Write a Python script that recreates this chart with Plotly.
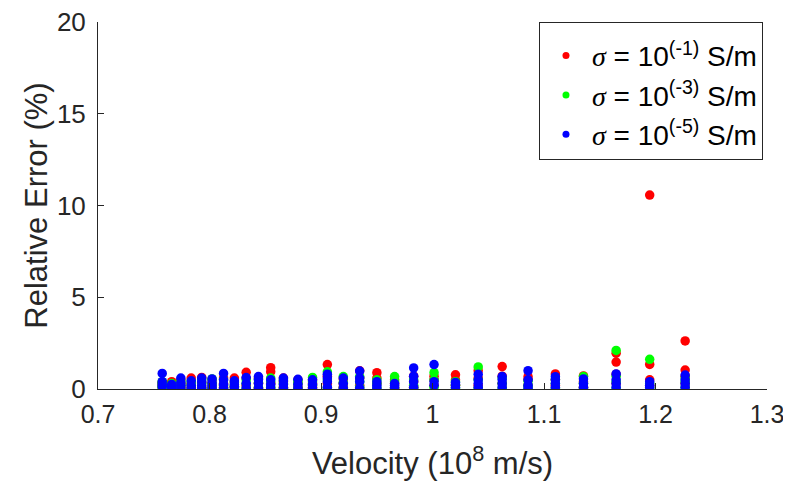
import plotly.graph_objects as go

# Velocity columns (10^8 m/s)
velocity = [0.7576, 0.7661, 0.7743, 0.7836, 0.7930, 0.8023, 0.8126, 0.8223, 0.8329, 0.8439,
            0.8549, 0.8663, 0.8793, 0.8924, 0.9057, 0.9200, 0.9347, 0.9501, 0.9660, 0.9831,
            1.0014, 1.0206, 1.0410, 1.0625, 1.0857, 1.1102, 1.1354, 1.1647, 1.1948, 1.2266]

# Relative error (%) per velocity column
err_s1 = [[0.1, 0.2, 0.3, 0.35], [0.05, 0.2, 0.4], [0.1, 0.3, 0.5], [0.1, 0.3, 0.6], [0.1, 0.35, 0.63],
          [0.1, 0.3, 0.5], [0.1, 0.3, 0.6], [0.15, 0.4, 0.6], [0.2, 0.6, 0.91], [0.05, 0.3, 0.6],
          [0.3, 0.94, 1.16], [0.1, 0.4, 0.6], [0.1, 0.3, 0.5], [0.1, 0.3, 0.5], [0.3, 0.7, 1.33],
          [0.1, 0.3, 0.55], [0.2, 0.6, 0.99], [0.3, 0.6, 0.89], [0.05, 0.3, 0.5], [0.1, 0.4, 0.7],
          [0.2, 0.5, 0.7], [0.2, 0.5, 0.77], [0.2, 0.6, 1.0], [0.3, 0.7, 1.22], [0.2, 0.5, 0.67],
          [0.2, 0.5, 0.82], [0.1, 0.4, 0.71], [0.3, 0.8, 1.47, 1.95], [0.2, 0.5, 1.34, 10.57], [0.3, 0.7, 1.03, 2.62]]
err_s3 = [[0.05, 0.15, 0.3, 0.4], [0.1, 0.2, 0.3], [0.0, 0.2, 0.45], [0.0, 0.25, 0.4], [0.05, 0.3, 0.5],
          [0.05, 0.3, 0.55], [0.0, 0.2, 0.5], [0.0, 0.15, 0.35], [0.05, 0.3, 0.5], [0.1, 0.35, 0.55],
          [0.1, 0.4, 0.6], [0.05, 0.3, 0.5], [0.05, 0.3, 0.45], [0.2, 0.4, 0.63], [0.05, 0.5, 0.94],
          [0.05, 0.35, 0.68], [0.1, 0.4, 0.68], [0.05, 0.3, 0.5], [0.05, 0.4, 0.68], [0.05, 0.2, 0.5],
          [0.1, 0.5, 0.89], [0.05, 0.2, 0.4], [0.05, 0.5, 1.2], [0.05, 0.3, 0.6], [0.05, 0.2, 0.43],
          [0.05, 0.3, 0.5], [0.05, 0.3, 0.68], [0.05, 0.4, 0.7, 2.1], [0.05, 0.3, 1.62], [0.1, 0.4, 0.6]]
err_s5 = [[0.12, 0.25, 0.4, 0.85], [0.05, 0.15, 0.25], [0.05, 0.2, 0.35, 0.6], [0.05, 0.2, 0.45], [0.05, 0.2, 0.4, 0.6],
          [0.05, 0.2, 0.35, 0.55], [0.05, 0.25, 0.5, 0.85], [0.1, 0.25, 0.45], [0.05, 0.3, 0.62], [0.05, 0.3, 0.5, 0.68],
          [0.05, 0.25, 0.5], [0.05, 0.25, 0.45, 0.6], [0.05, 0.25, 0.53], [0.05, 0.25, 0.5], [0.1, 0.4, 0.6, 0.81],
          [0.05, 0.3, 0.6], [0.05, 0.4, 0.6, 0.98], [0.05, 0.2, 0.4], [0.1, 0.2, 0.3], [0.1, 0.4, 0.7, 1.15],
          [0.2, 0.4, 1.33], [0.1, 0.25, 0.36], [0.1, 0.3, 0.5, 0.8], [0.1, 0.3, 0.5, 0.68], [0.05, 0.2, 0.5, 1.0],
          [0.1, 0.3, 0.5, 0.67], [0.1, 0.3, 0.55], [0.1, 0.3, 0.5, 0.82], [0.1, 0.2, 0.4], [0.1, 0.3, 0.5, 0.76]]

sig = "<span style='font-family:Liberation Serif, Times New Roman, serif'><i>σ</i></span>"
series_names = [sig + " = 10<sup>(-1)</sup> S/m",
                sig + " = 10<sup>(-3)</sup> S/m",
                sig + " = 10<sup>(-5)</sup> S/m"]
series_colors = ["#FF0000", "#00FF00", "#0000FF"]

x_ticks = [0.7, 0.8, 0.9, 1.0, 1.1, 1.2, 1.3]
x_tick_text = ["0.7", "0.8", "0.9", "1", "1.1", "1.2", "1.3"]
y_ticks = [0, 5, 10, 15, 20]


def flatten(cols):
    xs, ys = [], []
    for v, vals in zip(velocity, cols):
        for e in vals:
            xs.append(v)
            ys.append(e)
    return xs, ys


fig = go.Figure()
for name, color, data in zip(series_names, series_colors, [err_s1, err_s3, err_s5]):
    xs, ys = flatten(data)
    fig.add_trace(go.Scatter(x=xs, y=ys, mode="markers", name=name, showlegend=False,
                             legendgroup=name,
                             marker=dict(color=color, size=9.5, line=dict(width=0))))
# legend-only entries (smaller dots, as in the reference legend)
for name, color in zip(series_names, series_colors):
    fig.add_trace(go.Scatter(x=[None], y=[None], mode="markers", name=name, legendgroup=name,
                             marker=dict(color=color, size=7, line=dict(width=0))))

axis_color = "#262626"
fig.update_layout(
    width=783, height=473,
    margin=dict(l=90, r=24, t=14, b=92, autoexpand=False),
    paper_bgcolor="white", plot_bgcolor="white",
    font=dict(family="Liberation Sans, Arial, sans-serif", size=25, color=axis_color),
    showlegend=True,
    legend=dict(x=0.994, y=1.0, xanchor="right", yanchor="top",
                bgcolor="white", bordercolor=axis_color, borderwidth=1,
                font=dict(size=28, color="#000000"), itemsizing="trace",
                itemwidth=42, tracegroupgap=0,
                title=dict(text=" ", font=dict(size=6))),
    xaxis=dict(range=[0.7, 1.3], tickvals=x_ticks, ticktext=x_tick_text,
               showgrid=False, zeroline=False, showline=True, linecolor=axis_color,
               linewidth=1, ticks="inside", ticklen=6, tickcolor=axis_color,
               ticklabelstandoff=3, automargin=False, ticklabeloverflow="allow",
               title=dict(text="Velocity (10<sup>8</sup> m/s)", font=dict(size=31), standoff=25)),
    yaxis=dict(range=[0, 20], tickvals=y_ticks,
               showgrid=False, zeroline=False, showline=True, linecolor=axis_color,
               linewidth=1, ticks="inside", ticklen=6, tickcolor=axis_color,
               ticklabelstandoff=6, automargin=False, ticklabeloverflow="allow",
               tickfont=dict(size=26),
               title=dict(text="Relative Error (%)", font=dict(size=31), standoff=0)),
)

fig.write_html("out.html")
